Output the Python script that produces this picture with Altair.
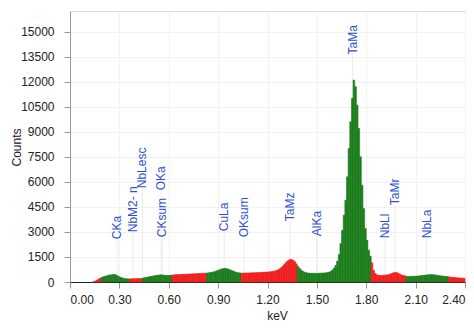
import altair as alt
import pandas as pd

# Spectrum: counts per 0.01 keV channel, channels starting at 0.14 keV
start_kev = 0.14
step_kev = 0.01
counts = [
    20, 60, 120, 180, 240,                                   # 0.14-0.18
    280, 320, 350, 380, 400, 420, 440, 450, 440, 400, 340,   # 0.19-0.29
    290, 250, 220, 200, 190, 185,                            # 0.30-0.35
    185, 190, 195, 200, 200, 205, 210, 220,                  # 0.36-0.43
    240, 260, 280, 300, 320, 340, 360, 380, 400, 410, 420, 430, 420, 400, 390, 390, 400, 410,  # 0.44-0.61
    420, 430, 440, 440, 450, 450, 460, 460, 470, 470, 480, 480, 490, 490, 500, 500, 510, 510, 520, 520, 530,  # 0.62-0.82
    540, 550, 570, 590, 610, 640, 680, 720, 760, 790, 810, 810, 790, 760, 720, 680, 640, 600, 570, 550, 540,  # 0.83-1.03
    530, 530, 535, 540, 540, 545, 550, 550, 555, 560, 565, 570, 575, 580, 585, 590, 600, 610, 620, 640,       # 1.04-1.23
    660, 690, 730, 790, 870, 970, 1080, 1190, 1280, 1340, 1350, 1310, 1220, 1090,                            # 1.24-1.37
    950, 820, 710, 640, 590, 560, 540, 530, 520, 520, 520, 520, 520, 525, 530, 535, 540, 550, 565, 590,       # 1.38-1.57
    640, 720, 840, 1000, 1250, 1650, 2300, 3100, 4000, 4900, 6300, 8000, 9600, 11000, 12100, 11700,          # 1.58-1.73
    10600, 9200, 7500, 5800, 4400, 3200, 2500, 1900, 1550,                                                    # 1.74-1.82
    1150, 700, 500, 430, 400, 390, 390, 400, 410, 420, 440, 470, 510, 550, 570, 560, 520, 470, 420, 390, 370,  # 1.83-2.03
    340, 330, 330, 335, 340, 345, 350, 360, 370, 380, 395, 410, 420, 430, 435, 440, 435, 425, 410, 395,       # 2.04-2.23
    380, 365, 350, 340, 330, 320,                                                                             # 2.24-2.29
    300, 290, 280, 270, 260, 250, 240, 235, 230, 225,                                                         # 2.30-2.39
]

# Regions of interest (drawn green), keV
roi_start = [0.19, 0.44, 0.83, 1.38, 2.04]
roi_end = [0.36, 0.62, 1.04, 1.83, 2.30]

# Peak labels
label_names = ["CKa", "NbM2- n", "NbLesc", "CKsum", "OKa", "CuLa", "OKsum",
               "TaMz", "AlKa", "TaMa", "NbLl", "TaMr", "NbLa"]
label_kev = [0.287, 0.383, 0.440, 0.560, 0.553, 0.937, 1.057,
             1.336, 1.499, 1.717, 1.914, 1.975, 2.167]
label_counts = [2560, 2980, 5620, 2680, 5500, 3040, 2680,
                3640, 2740, 13640, 2620, 4600, 2620]

x_ticks = [0.0, 0.3, 0.6, 0.9, 1.2, 1.5, 1.8, 2.1, 2.4]
y_ticks = [0, 1500, 3000, 4500, 6000, 7500, 9000, 10500, 12000, 13500, 15000]

GREEN = "#1c7d1c"
RED = "#f01e1e"

rows = []
for i, c in enumerate(counts):
    e0 = round(start_kev + i * step_kev, 4)
    e1 = round(e0 + step_kev, 4)
    in_roi = any(s - 1e-9 <= e0 < t - 1e-9 for s, t in zip(roi_start, roi_end))
    rows.append({"e0": e0, "e1": e1, "counts": c, "zero": 0,
                 "color": GREEN if in_roi else RED})
spec = pd.DataFrame(rows)

labels = pd.DataFrame({"name": label_names, "kev": label_kev, "y": label_counts, "zero": 0})

xscale = alt.Scale(domain=[0, 2.4], nice=False, zero=False)
yscale = alt.Scale(domain=[0, 16240], nice=False)

xaxis = alt.Axis(values=x_ticks, format=".2f", title="keV", grid=True,
                 gridColor="#f2f2f2", domainColor="#222222", tickColor="#999999",
                 tickSize=6, labelPadding=6, labelFontSize=12, labelColor="#222222",
                 titleFontSize=12, titleFontWeight="normal", titleColor="#222222",
                 titleX=207, titleY=33, titleBaseline="middle",
                 labelFont="Liberation Sans", titleFont="Liberation Sans")
yaxis = alt.Axis(values=y_ticks, format="d", title="Counts", grid=True,
                 gridColor="#f2f2f2", domainColor="#999999", tickColor="#999999",
                 tickSize=6, labelPadding=10, labelFontSize=12, labelColor="#222222",
                 titleFontSize=12, titleFontWeight="normal", titleColor="#222222",
                 titleX=-54, titleY=136, titleBaseline="middle", titleAngle=270,
                 labelFont="Liberation Sans", titleFont="Liberation Sans")

marker_lines = alt.Chart(labels).mark_rule(color="#ececec", strokeWidth=1).encode(
    x=alt.X("kev:Q", scale=xscale, axis=xaxis),
    y=alt.Y("y:Q", scale=yscale, axis=yaxis),
    y2="zero:Q",
)

bars = alt.Chart(spec).mark_rect(strokeWidth=0.6).encode(
    x=alt.X("e0:Q", scale=xscale, axis=xaxis),
    x2="e1:Q",
    y=alt.Y("counts:Q", scale=yscale, axis=yaxis),
    y2="zero:Q",
    color=alt.Color("color:N", scale=None),
    stroke=alt.Stroke("color:N", scale=None),
)

text = alt.Chart(labels).mark_text(angle=270, align="left", baseline="middle",
                                   fontSize=12, color="#2f4fd0",
                                   font="Liberation Sans").encode(
    x=alt.X("kev:Q", scale=xscale, axis=xaxis),
    y=alt.Y("y:Q", scale=yscale, axis=yaxis),
    text="name:N",
)

chart = (marker_lines + bars + text).properties(
    width=395, height=271,
    padding={"left": 70, "top": 11, "right": 9, "bottom": 50},
    autosize="none",
).configure_view(stroke="#888888", strokeWidth=1.2).configure(background="white")

chart.save("out.html", embed_options={"renderer": "svg", "actions": False})
